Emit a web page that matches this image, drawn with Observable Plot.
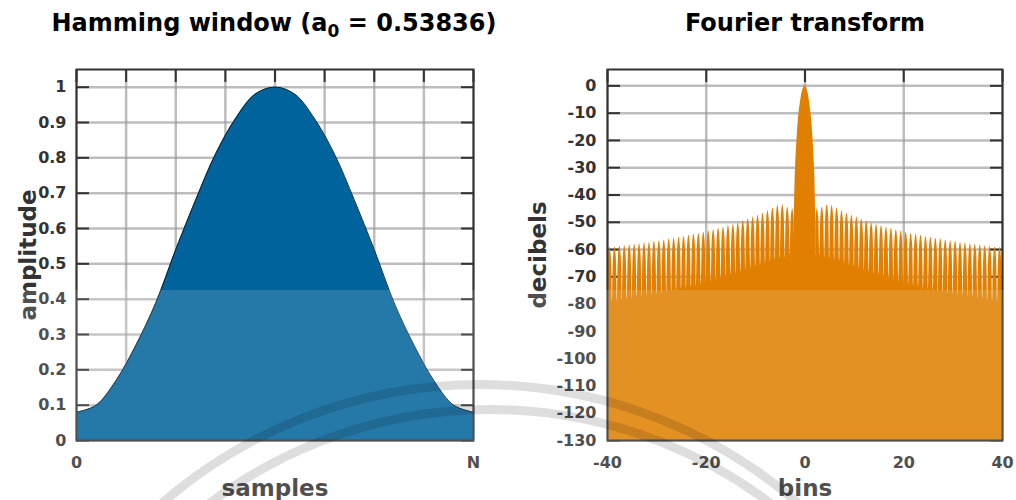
<!DOCTYPE html>
<html>
<head>
<meta charset="utf-8">
<script src="https://cdn.jsdelivr.net/npm/d3@7"></script>
<script src="https://cdn.jsdelivr.net/npm/@observablehq/plot@0.6"></script>
<style>
  html, body { margin:0; padding:0; background:#fff; }
  #wrap { position:relative; width:1016px; height:500px; overflow:hidden; font-family:"DejaVu Sans", sans-serif; }
  .panel { position:absolute; top:0; width:508px; height:500px; }
  .title { position:absolute; top:8px; transform:translateX(-50%); white-space:nowrap; font-weight:bold; font-size:24px; color:#000; line-height:30px; }
  .title sub { font-size:17px; vertical-align:-6px; line-height:0; }
  .shade { position:absolute; left:0; top:290px; width:1016px; height:210px; background:rgba(255,255,255,0.14); pointer-events:none; }
  .arc { position:absolute; border-radius:50%; box-sizing:border-box; border:9px solid rgba(0,0,0,0.13); pointer-events:none; }
  g[aria-label="y-axis label"] text, g[aria-label="x-axis label"] text { font-size:23px; }
</style>
</head>
<body>
<div id="wrap">
  <div class="panel" id="left"></div>
  <div class="panel" id="right" style="left:508px"></div>
  <div class="title" style="left:274px">Hamming window (a<sub>0</sub> = 0.53836)</div>
  <div class="title" style="left:805px">Fourier transform</div>
  <div class="shade"></div>
  <div class="arc" style="left:-10px;top:380px;width:980px;height:980px"></div>
  <div class="arc" style="left:20px;top:405px;width:940px;height:940px"></div>
</div>
<script>
// ---- Hamming window (left panel) ----
const sampleX = [0,0.05,0.1,0.15,0.2,0.25,0.3,0.35,0.4,0.45,0.5,0.55,0.6,0.65,0.7,0.75,0.8,0.85,0.9,0.95,1];
const amplitude = [0.08,0.10,0.17,0.27,0.39,0.54,0.68,0.81,0.91,0.98,1.00,0.98,0.91,0.81,0.68,0.54,0.39,0.27,0.17,0.10,0.08];
const sampleGrid = [0,0.125,0.25,0.375,0.5,0.625,0.75,0.875,1];
const sampleTicks = [0,1];
const sampleTickLabels = ["0","N"];
const ampTicks = [0,0.1,0.2,0.3,0.4,0.5,0.6,0.7,0.8,0.9,1];

// ---- Fourier transform (right panel), positive-frequency half, mirrored ----
const mainLobeBins = [0,0.5,1,1.3,1.6,1.9,2.1,2.2];
const mainLobeDb   = [0,-1.8,-7,-11.5,-19,-29,-42,-62];
const lobePeakBins = [2.5,3.5,4.5,5.5,6.5,7.5,8.5,9.5,10.5,11.5,12.5,13.5,14.5,15.5,16.5,17.5,18.5,19.5,20.5,21.5,22.5,23.5,24.5,25.5,26.5,27.5,28.5,29.5,30.5,31.5,32.5,33.5,34.5,35.5,36.5,37.5,38.5,39.5];
const lobePeakDb   = [-45,-44.5,-43.6,-43.9,-44.8,-45.8,-46.7,-47.4,-48.1,-48.8,-49.4,-50.3,-50.8,-51.3,-51.8,-52.2,-52.7,-53.2,-53.7,-54.1,-54.4,-54.8,-55.2,-55.5,-55.9,-56.1,-56.5,-56.8,-57.0,-57.4,-57.6,-57.9,-58.1,-58.3,-58.6,-58.8,-59.1,-59.2];
// level of each lobe a quarter-bin either side of its peak
const lobeShoulderDb = [-48,-47.5,-46.6,-46.9,-47.8,-48.8,-49.7,-50.4,-51.1,-51.8,-52.4,-53.3,-53.8,-54.3,-54.8,-55.2,-55.7,-56.2,-56.7,-57.1,-57.4,-57.8,-58.2,-58.5,-58.9,-59.1,-59.5,-59.8,-60,-60.4,-60.6,-60.9,-61.1,-61.3,-61.6,-61.8,-62.1,-62.2];
const lobeShoulderOffset = 0.25;
const lobeNullBins = [3,4,5,6,7,8,9,10,11,12,13,14,15,16,17,18,19,20,21,22,23,24,25,26,27,28,29,30,31,32,33,34,35,36,37,38,39,40];
const lobeNullDb   = [-62,-63,-63.5,-64,-64.6,-65.2,-65.8,-66.4,-67,-67.6,-68.2,-68.8,-69.4,-70,-70.7,-71.3,-71.9,-72.4,-72.9,-73.4,-73.8,-74.2,-74.6,-75,-75.4,-75.8,-76.2,-76.5,-76.8,-77.1,-77.4,-77.7,-78,-78.3,-78.6,-78.9,-79.2,-79.5];
const binTicks = [-40,-20,0,20,40];
const dbTicks = [0,-10,-20,-30,-40,-50,-60,-70,-80,-90,-100,-110,-120,-130];

const hamming = sampleX.map((x, i) => ({x, y: amplitude[i]}));
const half = mainLobeBins.map((b, i) => ({bin: b, db: mainLobeDb[i]}));
lobePeakBins.forEach((b, i) => {
  half.push({bin: b - lobeShoulderOffset, db: lobeShoulderDb[i]});
  half.push({bin: b, db: lobePeakDb[i]});
  half.push({bin: b + lobeShoulderOffset, db: lobeShoulderDb[i]});
  half.push({bin: lobeNullBins[i], db: lobeNullDb[i]});
});
const spectrum = [...half.slice(1).map(d => ({bin: -d.bin, db: d.db})).reverse(), ...half];

const style = {fontFamily: "DejaVu Sans", fontSize: "16px", fontWeight: "bold", color: "#333", background: "transparent", overflow: "visible"};
const grid = {stroke: "#999", strokeOpacity: 0.65, strokeWidth: 2.5};
const tickOnly = {tickFormat: () => "", label: null, strokeWidth: 2, stroke: "#333"};

function stripArrows(svg) {
  svg.querySelectorAll('g[aria-label$="axis label"] text').forEach(t => {
    t.textContent = t.textContent.replace(/[↑↓→←]/g, "").trim();
  });
  return svg;
}

const left = Plot.plot({
  width: 508, height: 500,
  marginLeft: 76, marginRight: 35, marginTop: 69, marginBottom: 60,
  x: {domain: [0, 1]},
  y: {domain: [0, 1.05]},
  style,
  marks: [
    Plot.gridX(sampleGrid, grid),
    Plot.gridY(ampTicks, grid),
    Plot.axisY(ampTicks, {anchor: "left", tickSize: -13, ...tickOnly}),
    Plot.axisY(ampTicks, {anchor: "right", tickSize: -13, ...tickOnly}),
    Plot.axisX(sampleGrid, {anchor: "top", tickSize: -12, ...tickOnly}),
    Plot.areaY(hamming, {x: "x", y: "y", fill: "#01639b", curve: "catmull-rom"}),
    Plot.lineY(hamming, {x: "x", y: "y", stroke: "#10222e", strokeWidth: 1, curve: "catmull-rom"}),
    Plot.axisY(ampTicks, {anchor: "left", tickSize: 0, tickPadding: 10, tickFormat: d => String(d),
      label: "amplitude", labelAnchor: "center", labelOffset: 57, labelArrow: "none"}),
    Plot.axisX(sampleTicks, {anchor: "bottom", tickSize: 0, tickPadding: 16,
      tickFormat: d => sampleTickLabels[sampleTicks.indexOf(d)],
      label: "samples", labelAnchor: "center", labelOffset: 55, labelArrow: "none"}),
    Plot.frame({stroke: "#333", strokeWidth: 2})
  ]
});
document.getElementById("left").append(stripArrows(left));

const right = Plot.plot({
  width: 508, height: 500,
  marginLeft: 99, marginRight: 14, marginTop: 69, marginBottom: 60,
  x: {domain: [-40, 40]},
  y: {domain: [-130, 6]},
  style,
  marks: [
    Plot.gridX(binTicks, grid),
    Plot.gridY(dbTicks, grid),
    Plot.axisY(dbTicks, {anchor: "left", tickSize: -13, ...tickOnly}),
    Plot.axisY(dbTicks, {anchor: "right", tickSize: -13, ...tickOnly}),
    Plot.axisX(binTicks, {anchor: "top", tickSize: -12, ...tickOnly}),
    Plot.areaY(spectrum, {x: "bin", y1: -130, y2: "db", fill: "#e07f00", curve: "catmull-rom", clip: true}),
    Plot.axisY(dbTicks, {anchor: "left", tickSize: 0, tickPadding: 11, tickFormat: d => String(d),
      label: "decibels", labelAnchor: "center", labelOffset: 78, labelArrow: "none"}),
    Plot.axisX(binTicks, {anchor: "bottom", tickSize: 0, tickPadding: 16, tickFormat: d => String(d),
      label: "bins", labelAnchor: "center", labelOffset: 55, labelArrow: "none"}),
    Plot.frame({stroke: "#333", strokeWidth: 2})
  ]
});
document.getElementById("right").append(stripArrows(right));
</script>
</body>
</html>
